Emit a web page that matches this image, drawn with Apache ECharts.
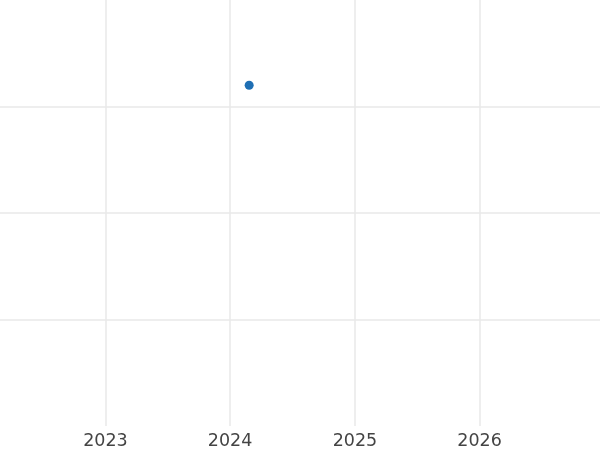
<!DOCTYPE html>
<html><head><meta charset="utf-8">
<script src="https://cdn.jsdelivr.net/npm/echarts@6/dist/echarts.min.js"></script>
<style>html,body{margin:0;padding:0;background:#fff}#c{width:600px;height:450px}</style>
</head><body><div id="c"></div>
<script>
var dates = ['2024-02-26'];
var values = [3.2];
var xMin = '2022-02-26';
var xMax = '2026-12-20';
var yMin = 0, yMax = 4, yInterval = 1;

var chart = echarts.init(document.getElementById('c'));
chart.setOption({
  animation: false,
  grid: {left: 0, right: 0, top: 0, bottom: 23, containLabel: false},
  xAxis: {
    type: 'time',
    min: new Date(xMin).getTime(),
    max: new Date(xMax).getTime(),
    axisLine: {show: false},
    axisTick: {show: false},
    splitLine: {show: true, showMinLine: false, showMaxLine: false,
      lineStyle: {color: '#e9e9e9', width: 1.5}},
    axisLabel: {color: '#444', fontSize: 17.5, fontFamily: 'DejaVu Sans', margin: 6,
      showMinLabel: false, showMaxLabel: false,
      formatter: function (v) { return String(new Date(v).getFullYear()); }},
    minInterval: 365 * 24 * 3600 * 1000
  },
  yAxis: {
    type: 'value', min: yMin, max: yMax, interval: yInterval,
    axisLine: {show: false}, axisTick: {show: false}, axisLabel: {show: false},
    splitLine: {show: true, showMinLine: false, showMaxLine: false,
      lineStyle: {color: '#e9e9e9', width: 1.5}}
  },
  series: [{
    type: 'scatter',
    symbolSize: 9,
    itemStyle: {color: '#1f6fb4', opacity: 1},
    data: dates.map(function (d, i) { return [new Date(d).getTime(), values[i]]; })
  }]
});
</script></body></html>
